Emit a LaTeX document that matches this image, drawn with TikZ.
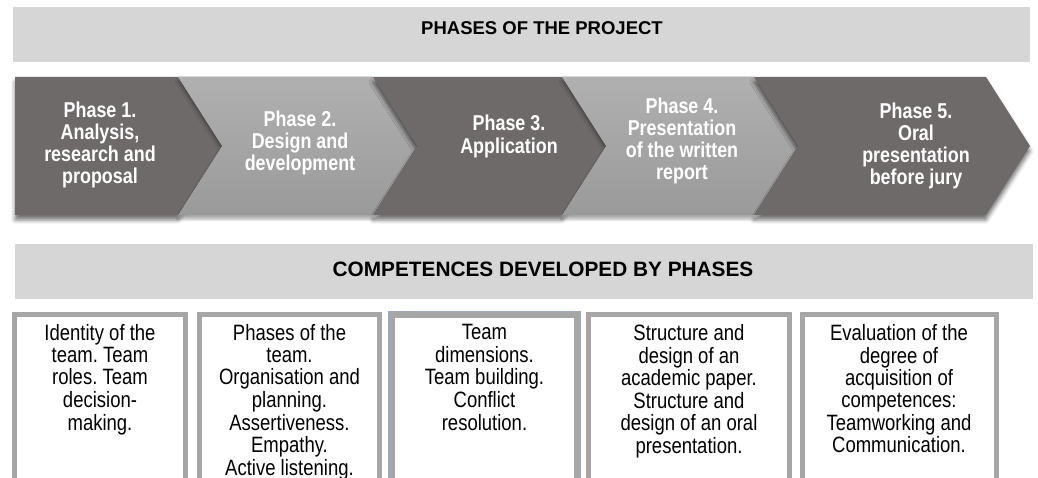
\documentclass[tikz,border=0pt]{standalone}
\usepackage{fontspec}
\usepackage{graphicx}
\setmainfont{Liberation Sans}
\usetikzlibrary{shadows.blur}
\frenchspacing

\definecolor{bannergray}{HTML}{D6D6D6}
\definecolor{chevdark}{HTML}{6E6A69}
\definecolor{chevlighttop}{HTML}{B0B0B0}
\definecolor{chevlightbot}{HTML}{9A9A9A}
\definecolor{boxframe}{HTML}{A6A6A6}
\definecolor{boxframeblue}{HTML}{9CAAC0}

% centred block of lines, stretched vertically
\newcommand{\tallines}[1]{\scalebox{1}[1.2]{\begin{tabular}{@{}c@{}}#1\end{tabular}}}

\begin{document}
\begin{tikzpicture}[x=1pt,y=-1pt,
  banner/.style={fill=bannergray, draw=none, inner sep=0pt},
  bannertext/.style={font=\bfseries\fontsize{#1}{#1}\selectfont, text=black, inner sep=0pt},
  darkchev/.style={fill=chevdark, blur shadow={shadow xshift=0pt, shadow yshift=-5pt, shadow blur radius=4pt, shadow opacity=55}},
  lightchev/.style={top color=chevlighttop, bottom color=chevlightbot, blur shadow={shadow xshift=0pt, shadow yshift=-4pt, shadow blur radius=3pt, shadow opacity=35}},
  phasetext/.style={font=\bfseries\fontsize{17.9}{18.3}\selectfont, text=white, inner sep=0pt},
  compbox/.style={draw=boxframe, line width=5pt, fill=white, inner sep=0pt, minimum height=200pt},
  comptext/.style={font=\fontsize{18.5}{18.1}\selectfont, text=black, inner sep=0pt, anchor=north}
]
\useasboundingbox (0,0) rectangle (1038,478);

% headline banners
\node[banner, minimum width=1017pt, minimum height=55pt] (topbanner) at (521.5,34.5) {};
\node[bannertext=18.5] (toptitle) at (542,28.5) {PHASES OF THE PROJECT};
\node[banner, minimum width=1018pt, minimum height=55pt] (midbanner) at (524,271.5) {};
\node[bannertext=20.8] (midtitle) at (543,269) {COMPETENCES DEVELOPED BY PHASES};

% chevron boundaries: top 77, bottom 215, tip at 146, tip depth 44
\def\ct{77}\def\cb{215}\def\cm{146}\def\cd{44}
\fill[darkchev]  (15,\ct) -- (178,\ct) -- (178+\cd,\cm) -- (178,\cb) -- (15,\cb) -- cycle;
\fill[lightchev] (178,\ct) -- (373,\ct) -- (373+\cd,\cm) -- (373,\cb) -- (178,\cb) -- (178+\cd,\cm) -- cycle;
\fill[darkchev]  (373,\ct) -- (562,\ct) -- (562+\cd,\cm) -- (562,\cb) -- (373,\cb) -- (373+\cd,\cm) -- cycle;
\fill[lightchev] (562,\ct) -- (754,\ct) -- (754+\cd,\cm) -- (754,\cb) -- (562,\cb) -- (562+\cd,\cm) -- cycle;
\fill[darkchev]  (754,\ct) -- (986,\ct) -- (986+\cd,\cm) -- (986,\cb) -- (754,\cb) -- (754+\cd,\cm) -- cycle;

% phase labels
\node[phasetext] (p1) at (100,146) {\tallines{Phase 1.\\Analysis,\\research and\\proposal}};
\node[phasetext] (p2) at (300,144) {\tallines{Phase 2.\\Design and\\development}};
\node[phasetext] (p3) at (509,137.5) {\tallines{Phase 3.\\Application}};
\node[phasetext] (p4) at (682,142) {\tallines{Phase 4.\\Presentation\\of the written\\report}};
\node[phasetext] (p5) at (916,147) {\tallines{Phase 5.\\Oral\\presentation\\before jury}};

% competence boxes
\node[compbox, minimum width=171pt] (b1) at (100,414.5) {};
\node[compbox, minimum width=180pt] (b2) at (289.5,414.5) {};
\node[compbox, minimum width=185pt, line width=6pt] (b3) at (484.5,414.5) {};
\draw[boxframeblue, line width=1.4pt] (b3.south west) rectangle (b3.north east);
\node[compbox, minimum width=201pt] (b4) at (689,414.5) {};
\node[compbox, minimum width=194pt] (b5) at (899,414.5) {};

\node[comptext] (c1) at ([yshift=-12.3pt]b1.north) {\tallines{Identity of the\\team. Team\\roles. Team\\decision-\\making.}};
\node[comptext] (c2) at ([yshift=-12.3pt]b2.north) {\tallines{Phases of the\\team.\\Organisation and\\planning.\\Assertiveness.\\Empathy.\\Active listening.}};
\node[comptext] (c3) at ([yshift=-12.8pt]b3.north) {\tallines{Team\\dimensions.\\Team building.\\Conflict\\resolution.}};
\node[comptext] (c4) at ([yshift=-12.3pt]b4.north) {\tallines{Structure and\\design of an\\academic paper.\\Structure and\\design of an oral\\presentation.}};
\node[comptext] (c5) at ([yshift=-12.3pt]b5.north) {\tallines{Evaluation of the\\degree of\\acquisition of\\competences:\\Teamworking and\\Communication.}};
\end{tikzpicture}
\end{document}
